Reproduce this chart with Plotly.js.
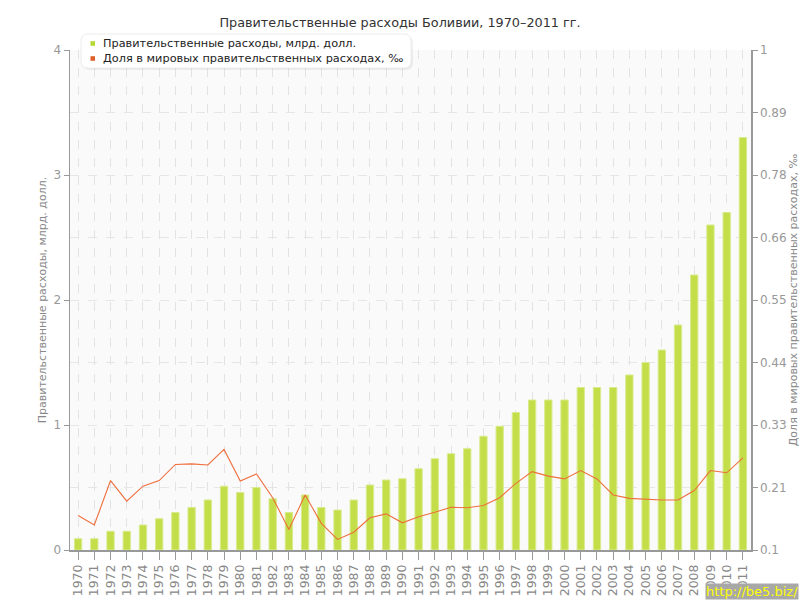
<!DOCTYPE html>
<html>
<head>
<meta charset="utf-8">
<script src="https://cdn.plot.ly/plotly-3.0.1.min.js"></script>
<style>html,body{margin:0;padding:0;background:#fff;}#chart{width:800px;height:600px;}</style>
</head>
<body>
<div id="chart"></div>
<script>
const years = ["1970","1971","1972","1973","1974","1975","1976","1977","1978","1979","1980","1981","1982","1983","1984","1985","1986","1987","1988","1989","1990","1991","1992","1993","1994","1995","1996","1997","1998","1999","2000","2001","2002","2003","2004","2005","2006","2007","2008","2009","2010","2011"];
const spending = [0.09,0.09,0.15,0.15,0.20,0.25,0.30,0.34,0.40,0.51,0.46,0.50,0.41,0.30,0.44,0.34,0.32,0.40,0.52,0.56,0.57,0.65,0.73,0.77,0.81,0.91,0.99,1.10,1.20,1.20,1.20,1.30,1.30,1.30,1.40,1.50,1.60,1.80,2.20,2.60,2.70,3.30];
const share = [0.162,0.145,0.225,0.188,0.215,0.225,0.254,0.255,0.253,0.281,0.224,0.237,0.194,0.137,0.199,0.148,0.119,0.132,0.158,0.165,0.149,0.160,0.168,0.177,0.176,0.180,0.194,0.220,0.241,0.233,0.228,0.243,0.228,0.199,0.193,0.191,0.190,0.190,0.207,0.243,0.239,0.266];
const rightTickVals = [0.1,0.2125,0.325,0.4375,0.55,0.6625,0.775,0.8875,1];
const rightTickText = ["0.1","0.21","0.33","0.44","0.55","0.66","0.78","0.89","1"];
const seriesNames = ["Правительственные расходы, млрд. долл.","Доля в мировых правительственных расходах, ‰"];
const seriesColors = ["#b5d930","#e0602a"];

const font = "DejaVu Sans, Verdana, sans-serif";

// geometry of the plot area (pixels) for placing the hand-made legend
const M = {l:70, r:49, t:50, b:50};
const PW = 800 - M.l - M.r, PH = 600 - M.t - M.b;
const px = x => (x - M.l) / PW;
const py = y => (M.t + PH - y) / PH;
function roundRect(x0, y0, x1, y1, r) {
  const rx = r / PW, ry = r / PH;
  const a = px(x0), b = px(x1), top = py(y0), bot = py(y1);
  return `M${a+rx},${top} L${b-rx},${top} Q${b},${top} ${b},${top-ry} L${b},${bot+ry} Q${b},${bot} ${b-rx},${bot} L${a+rx},${bot} Q${a},${bot} ${a},${bot+ry} L${a},${top-ry} Q${a},${top} ${a+rx},${top} Z`;
}

const traces = [
  {type:"bar", x:years, y:spending, width:0.45, marker:{color:"#c3de48", line:{color:"#d8eb8c", width:1}}, showlegend:false, name:seriesNames[0]},
  {type:"scatter", mode:"lines", x:years, y:share, yaxis:"y2", line:{color:"#ee6e3c", width:1.1}, showlegend:false, name:seriesNames[1]}
];

const legendRows = [43.5, 58.5];
const shapes = [
  {type:"path", xref:"paper", yref:"paper", path:roundRect(83, 36, 413, 70, 7), fillcolor:"rgba(0,0,0,0.06)", line:{width:0}, layer:"above"},
  {type:"path", xref:"paper", yref:"paper", path:roundRect(81, 34, 411, 68, 7), fillcolor:"#ffffff", line:{color:"#ececec", width:1}, layer:"above"}
];
const annotations = [];
seriesNames.forEach((n, i) => {
  const cy = legendRows[i];
  shapes.push({type:"rect", xref:"paper", yref:"paper", x0:px(90.5), x1:px(95), y0:py(cy-2.3), y1:py(cy+2.3), fillcolor:seriesColors[i], line:{width:0}, layer:"above"});
  annotations.push({text:n, xref:"paper", yref:"paper", x:px(101), y:py(cy), xanchor:"left", yanchor:"middle", showarrow:false,
                    font:{family:font, size:11.3, color:"#222"}});
});
annotations.push({text:"http://be5.biz/", xref:"paper", yref:"paper", x:px(799), y:py(600), xanchor:"right", yanchor:"bottom",
                  showarrow:false, bgcolor:"#a8a8a8", font:{family:font, size:13, color:"#ffff00"}, borderpad:0});

const layout = {
  width:800, height:600,
  margin:M,
  paper_bgcolor:"#ffffff", plot_bgcolor:"#fafafa",
  font:{family:font, size:11, color:"#888"},
  title:{text:"Правительственные расходы Боливии, 1970–2011 гг.", x:0.5, xanchor:"center", y:0.97, font:{family:font, size:12.8, color:"#333"}},
  showlegend:false,
  xaxis:{type:"category", range:[-0.5,41.5], tickangle:-90, showgrid:true, gridcolor:"#e3e3e3", griddash:"dash", gridwidth:1,
         showline:true, linecolor:"#999", linewidth:1.5, ticks:"outside", ticklen:8, tickcolor:"#999", layer:"above traces",
         tickfont:{family:font, size:12.5, color:"#888"}, fixedrange:true},
  yaxis:{range:[0,4], dtick:1, tick0:0, showgrid:true, gridcolor:"#e6e6e6", griddash:"dash", zeroline:false,
         minor:{dtick:0.5, showgrid:true, gridcolor:"#e6e6e6", griddash:"dash"},
         showline:true, linecolor:"#999", linewidth:1.5, ticks:"outside", ticklen:5, tickcolor:"#999",
         tickfont:{family:font, size:12, color:"#999"},
         title:{text:seriesNames[0], font:{family:font, size:11, color:"#888"}, standoff:4}},
  yaxis2:{overlaying:"y", side:"right", range:[0.1,1], tickvals:rightTickVals, ticktext:rightTickText, showgrid:false, zeroline:false,
         showline:true, linecolor:"#999", linewidth:1.5, ticks:"outside", ticklen:5, tickcolor:"#999",
         tickfont:{family:font, size:12, color:"#999"},
         title:{text:seriesNames[1], font:{family:font, size:11, color:"#888"}, standoff:8}},
  shapes:shapes,
  annotations:annotations
};
Plotly.newPlot("chart", traces, layout, {staticPlot:true});
</script>
</body>
</html>
